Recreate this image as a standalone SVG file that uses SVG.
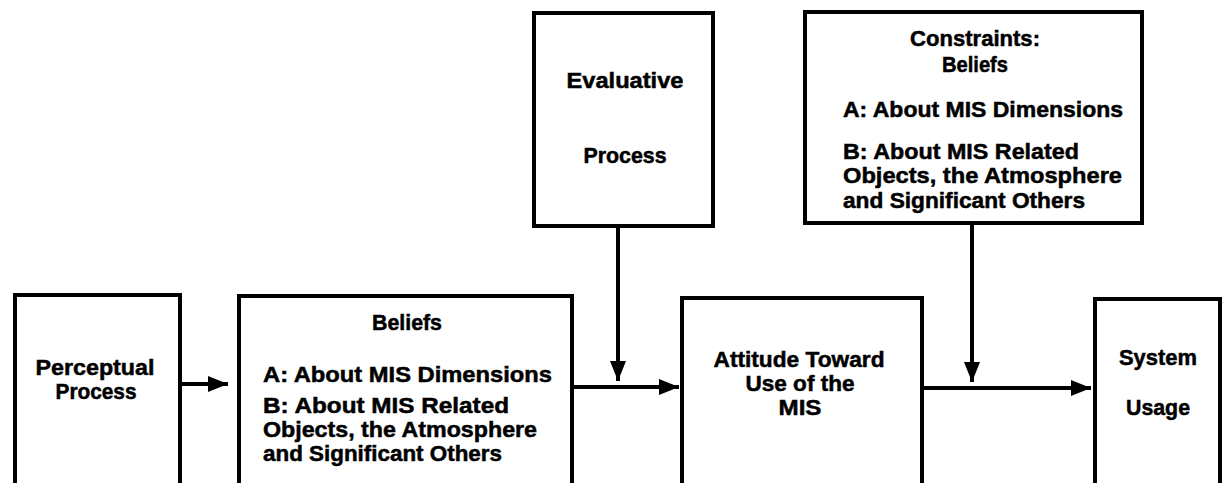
<svg xmlns="http://www.w3.org/2000/svg" width="1225" height="483" viewBox="0 0 1225 483">
  <style>
    .box { fill: #ffffff; stroke: #000000; stroke-width: 4; }
    .lbl { font-family: "Liberation Sans", Arial, sans-serif; font-weight: bold; font-size: 22px; fill: #000000; stroke: #000000; stroke-width: 0.5; }
    .mid { text-anchor: middle; }
    .edge { fill: none; stroke: #000000; stroke-width: 4; }
  </style>
  <defs>
    <marker id="arrow" markerUnits="userSpaceOnUse" markerWidth="20" markerHeight="16" refX="20" refY="8" orient="auto">
      <path d="M0,0 L20,8 L0,16 Z" fill="#000000"/>
    </marker>
  </defs>

  <rect width="1225" height="483" fill="#ffffff"/>

  <g id="perceptual-process">
    <rect class="box" x="15" y="295" width="165" height="200"/>
    <text class="lbl mid" x="95" y="375" textLength="119" lengthAdjust="spacingAndGlyphs">Perceptual</text>
    <text class="lbl mid" x="96" y="399" textLength="81" lengthAdjust="spacingAndGlyphs">Process</text>
  </g>

  <g id="beliefs">
    <rect class="box" x="239" y="296" width="333" height="200"/>
    <text class="lbl mid" x="407" y="330" textLength="70" lengthAdjust="spacingAndGlyphs">Beliefs</text>
    <text class="lbl" x="263" y="382" textLength="289" lengthAdjust="spacingAndGlyphs">A: About MIS Dimensions</text>
    <text class="lbl" x="263" y="413" textLength="246" lengthAdjust="spacingAndGlyphs">B: About MIS Related</text>
    <text class="lbl" x="263" y="437" textLength="274" lengthAdjust="spacingAndGlyphs">Objects, the Atmosphere</text>
    <text class="lbl" x="263" y="461" textLength="239" lengthAdjust="spacingAndGlyphs">and Significant Others</text>
  </g>

  <g id="evaluative-process">
    <rect class="box" x="534" y="13" width="179" height="213"/>
    <text class="lbl mid" x="625" y="88" textLength="117" lengthAdjust="spacingAndGlyphs">Evaluative</text>
    <text class="lbl mid" x="625" y="163" textLength="83" lengthAdjust="spacingAndGlyphs">Process</text>
  </g>

  <g id="attitude">
    <rect class="box" x="682" y="298" width="240" height="200"/>
    <text class="lbl mid" x="799" y="367" textLength="171" lengthAdjust="spacingAndGlyphs">Attitude Toward</text>
    <text class="lbl mid" x="800" y="391" textLength="109" lengthAdjust="spacingAndGlyphs">Use of the</text>
    <text class="lbl mid" x="800" y="415" textLength="43" lengthAdjust="spacingAndGlyphs">MIS</text>
  </g>

  <g id="constraints">
    <rect class="box" x="805" y="12" width="337" height="211"/>
    <text class="lbl mid" x="975" y="46" textLength="130" lengthAdjust="spacingAndGlyphs">Constraints:</text>
    <text class="lbl mid" x="975" y="72" textLength="66" lengthAdjust="spacingAndGlyphs">Beliefs</text>
    <text class="lbl" x="843" y="117" textLength="280" lengthAdjust="spacingAndGlyphs">A: About MIS Dimensions</text>
    <text class="lbl" x="843" y="159" textLength="236" lengthAdjust="spacingAndGlyphs">B: About MIS Related</text>
    <text class="lbl" x="843" y="183" textLength="279" lengthAdjust="spacingAndGlyphs">Objects, the Atmosphere</text>
    <text class="lbl" x="843" y="208" textLength="242" lengthAdjust="spacingAndGlyphs">and Significant Others</text>
  </g>

  <g id="system-usage">
    <rect class="box" x="1095" y="299" width="125" height="200"/>
    <text class="lbl mid" x="1158" y="365" textLength="78" lengthAdjust="spacingAndGlyphs">System</text>
    <text class="lbl mid" x="1158" y="415" textLength="64" lengthAdjust="spacingAndGlyphs">Usage</text>
  </g>

  <g id="connectors">
    <path class="edge" d="M180,384 H228" marker-end="url(#arrow)"/>
    <path class="edge" d="M572,387 H679" marker-end="url(#arrow)"/>
    <path class="edge" d="M618,226 V381" marker-end="url(#arrow)"/>
    <path class="edge" d="M972,223 V382" marker-end="url(#arrow)"/>
    <path class="edge" d="M922,388 H1091" marker-end="url(#arrow)"/>
  </g>
</svg>
